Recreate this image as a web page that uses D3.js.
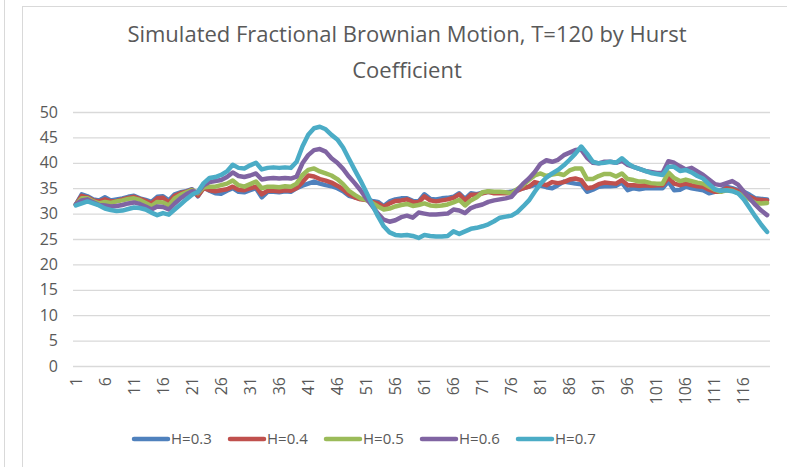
<!DOCTYPE html>
<meta charset="utf-8">
<style>
body { margin: 0; background: #fff; }
text { font-family: "Open Sans", sans-serif; fill: #595959; }
.grid line { stroke: #d9d9d9; stroke-width: 1.3px; }
.line { fill: none; stroke-width: 4.5px; stroke-linejoin: round; stroke-linecap: round; }
</style>
<body>
<script src="https://cdn.jsdelivr.net/npm/d3@7"></script>
<script>

// chart values
var title = ["Simulated Fractional Brownian Motion, T=120 by Hurst", "Coefficient"];
var hurst = ["H=0.3", "H=0.4", "H=0.5", "H=0.6", "H=0.7"];
var colors = ["#4f81bd", "#c0504d", "#9bbb59", "#8064a2", "#4bacc6"];
var yTicks = [0, 5, 10, 15, 20, 25, 30, 35, 40, 45, 50];
var steps = d3.range(1, 121);
var xLabels = steps.filter(function(d) { return (d - 1) % 5 == 0; });

var h03 = [31.8, 33.8, 33.4, 32.8, 32.6, 33.2, 32.6, 32.8, 33.0, 33.3,
  33.5, 33.0, 32.7, 32.3, 33.3, 33.4, 32.6, 33.8, 34.2, 34.4,
  34.8, 33.4, 35.2, 34.5, 34.0, 33.9, 34.5, 35.0, 34.3, 34.2,
  34.6, 35.0, 33.2, 34.3, 34.3, 34.2, 34.4, 34.3, 35.0, 35.5,
  35.9, 36.3, 35.9, 35.6, 35.4, 35.0, 34.4, 33.5, 33.2, 32.9,
  32.8, 32.5, 32.3, 31.5, 32.4, 32.8, 33.0, 33.0, 32.5, 32.4,
  33.8, 32.9, 32.8, 33.0, 33.1, 33.3, 34.0, 32.9, 34.0, 33.8,
  34.1, 34.3, 34.2, 34.2, 34.2, 34.3, 34.7, 35.0, 35.3, 35.6,
  35.5, 35.2, 35.0, 35.6, 36.3, 36.1, 35.9, 35.8, 34.3, 34.7,
  35.3, 35.4, 35.4, 35.5, 36.1, 34.6, 35.0, 34.8, 35.0, 35.0,
  35.0, 35.0, 36.3, 34.6, 34.7, 35.3, 35.0, 34.8, 34.6, 34.0,
  34.3, 34.5, 35.3, 35.0, 34.6, 34.3, 33.7, 33.0, 32.9, 32.8];

var h04 = [31.8, 33.5, 33.2, 32.6, 32.4, 32.8, 32.4, 32.5, 32.8, 33.1,
  33.3, 32.9, 32.5, 32.0, 33.0, 33.1, 32.2, 33.5, 34.0, 34.3,
  34.7, 33.5, 35.0, 34.6, 34.4, 34.6, 34.8, 35.3, 34.7, 34.6,
  35.0, 35.3, 33.8, 34.5, 34.5, 34.4, 34.6, 34.5, 35.0, 36.2,
  37.5, 37.3, 36.8, 36.5, 36.1, 35.5, 34.8, 33.8, 33.2, 32.8,
  32.7, 32.3, 32.0, 31.3, 32.0, 32.5, 32.6, 32.8, 32.3, 32.2,
  33.4, 32.6, 32.4, 32.6, 32.8, 33.1, 33.8, 32.6, 33.7, 33.7,
  34.0, 34.3, 34.0, 34.0, 34.0, 34.1, 34.5, 35.0, 35.3, 36.2,
  35.9, 35.6, 36.2, 36.0, 36.2, 36.7, 36.9, 36.6, 35.0, 35.2,
  35.8, 36.1, 36.0, 35.9, 36.6, 35.6, 35.6, 35.5, 35.6, 35.5,
  35.6, 35.6, 37.1, 35.9, 35.6, 35.9, 35.6, 35.4, 35.3, 34.7,
  34.3, 34.3, 35.0, 34.8, 34.4, 33.8, 33.3, 32.8, 32.7, 32.6];

var h05 = [31.8, 33.0, 33.0, 32.4, 32.0, 32.3, 32.1, 32.4, 32.6, 32.9,
  33.0, 32.7, 32.1, 31.5, 32.3, 32.2, 31.6, 33.0, 33.7, 34.2,
  34.6, 34.0, 35.2, 35.3, 35.3, 35.6, 35.9, 36.5, 35.6, 35.3,
  35.8, 36.3, 35.0, 35.3, 35.3, 35.2, 35.4, 35.3, 35.9, 37.6,
  38.6, 38.9, 38.3, 37.9, 37.5, 36.8, 35.8, 34.5, 33.7, 33.0,
  32.7, 32.1, 31.4, 30.8, 31.0, 31.4, 31.7, 31.9, 31.5, 31.7,
  32.0, 31.6, 31.5, 31.6, 31.8, 32.2, 32.7, 31.6, 32.6, 33.2,
  34.2, 34.4, 34.3, 34.3, 34.2, 34.0, 34.8, 35.6, 36.6, 37.5,
  37.9, 37.4, 37.7, 37.9, 37.6, 38.5, 38.9, 38.9, 36.8, 36.8,
  37.4, 37.8, 37.8, 37.3, 37.9, 36.8, 36.6, 36.3, 36.3, 36.0,
  35.9, 35.9, 38.1, 37.0, 36.4, 36.7, 36.4, 36.1, 35.9, 35.3,
  34.7, 34.3, 34.6, 34.5, 34.0, 33.5, 32.8, 32.1, 32.0, 32.1];

var h06 = [31.8, 32.6, 32.8, 32.2, 31.7, 31.6, 31.4, 31.5, 31.7, 32.0,
  32.2, 31.9, 31.4, 30.8, 31.4, 31.3, 30.8, 32.0, 33.0, 33.8,
  34.4, 34.2, 35.6, 36.2, 36.4, 36.6, 37.2, 38.1, 37.4, 37.2,
  37.5, 37.9, 36.7, 36.9, 37.0, 36.9, 37.0, 36.9, 37.3, 39.9,
  41.5, 42.5, 42.7, 42.2, 40.9, 40.0, 38.8, 37.3, 36.0, 34.6,
  33.0, 31.5, 30.0, 28.8, 28.4, 28.7, 29.3, 29.6, 29.2, 30.2,
  30.0, 29.8, 29.8, 29.9, 30.0, 30.8, 30.6, 30.1, 31.1, 31.5,
  31.8, 32.3, 32.6, 32.8, 33.0, 33.3, 34.6, 35.9, 36.9, 38.2,
  39.8, 40.5, 40.2, 40.6, 41.5, 42.0, 42.5, 42.6, 41.0, 40.0,
  39.9, 40.2, 40.2, 40.0, 40.4, 39.6, 39.2, 38.8, 38.4, 38.2,
  38.0, 38.0, 40.3, 40.0, 39.3, 38.7, 39.0, 38.3, 37.6, 36.7,
  35.8, 35.6, 36.0, 36.4, 35.7, 34.3, 33.0, 31.7, 30.6, 29.7];

var h07 = [31.6, 32.0, 32.4, 32.0, 31.6, 31.0, 30.7, 30.5, 30.6, 30.9,
  31.2, 31.1, 30.8, 30.2, 29.7, 30.1, 29.8, 30.8, 31.8, 32.8,
  33.7, 34.3, 36.0, 37.0, 37.2, 37.6, 38.3, 39.6, 39.0, 38.9,
  39.5, 40.0, 38.7, 39.0, 39.1, 39.0, 39.1, 39.0, 40.2, 43.2,
  45.5, 46.8, 47.1, 46.6, 45.5, 44.6, 43.0, 40.8, 38.6, 36.5,
  34.2, 31.8, 29.5, 27.5, 26.3, 25.8, 25.7, 25.8, 25.6, 25.2,
  25.8, 25.6, 25.5, 25.5, 25.6, 26.5, 26.0, 26.5, 27.0, 27.2,
  27.5, 27.9, 28.5, 29.2, 29.4, 29.6, 30.3, 31.4, 32.6, 34.3,
  35.9, 37.1, 37.9, 38.6, 39.5, 40.6, 41.8, 43.2, 41.8, 40.2,
  39.9, 40.0, 40.2, 40.0, 40.9, 39.9, 39.2, 38.8, 38.4, 38.0,
  37.8, 37.6, 39.2, 39.2, 38.4, 38.6, 38.1, 37.4, 36.9, 35.8,
  34.8, 34.5, 34.6, 34.4, 34.0, 32.8, 31.1, 29.4, 27.8, 26.4];

var series = [h03, h04, h05, h06, h07];

var W = 787, H = 467;
var plot = {left: 73, right: 770, top: 112, bottom: 366};

var svg = d3.select("body").append("svg")
    .attr("width", W)
    .attr("height", H);

// chart area border
svg.append("rect")
    .attr("x", 22.5).attr("y", 6.5)
    .attr("width", W).attr("height", H)
    .style("fill", "none").style("stroke", "#d9d9d9");
svg.append("line")
    .attr("x1", 4.5).attr("x2", 4.5).attr("y1", 0).attr("y2", H)
    .style("stroke", "#d9d9d9");

var x = d3.scaleBand().domain(steps).range([plot.left, plot.right]);
var y = d3.scaleLinear().domain([0, 50]).range([plot.bottom, plot.top]);

// title
svg.append("g").selectAll("text")
    .data(title)
  .enter().append("text")
    .attr("x", 407)
    .attr("y", function(d, i) { return 42 + i * 36; })
    .attr("text-anchor", "middle")
    .style("font-size", "22px")
    .text(function(d) { return d; });

// gridlines + y labels
var yAxis = svg.append("g")
    .attr("class", "grid")
    .attr("transform", "translate(" + plot.left + ",0)")
    .call(d3.axisLeft(y).tickValues(yTicks).tickSize(-(plot.right - plot.left)).tickPadding(15));
yAxis.select(".domain").remove();
yAxis.selectAll("text").style("font-size", "16px");

// x labels, every 5th step, rotated
var xAxis = svg.append("g")
    .attr("transform", "translate(0," + plot.bottom + ")")
    .call(d3.axisBottom(x).tickValues(xLabels).tickSize(0));
xAxis.select(".domain").remove();
xAxis.selectAll("text")
    .attr("transform", "rotate(-90)")
    .attr("x", -11)
    .attr("y", 0)
    .attr("dy", "0.35em")
    .attr("text-anchor", "end")
    .style("font-size", "16px");

// the lines
var line = d3.line()
    .x(function(d, i) { return x(steps[i]) + x.bandwidth() / 2; })
    .y(function(d) { return y(d); });

svg.append("g").selectAll("path")
    .data(series)
  .enter().append("path")
    .attr("class", "line")
    .style("stroke", function(d, i) { return colors[i]; })
    .attr("d", line);

// legend
var leg = svg.append("g").selectAll("g")
    .data(hurst)
  .enter().append("g")
    .attr("transform", function(d, i) { return "translate(" + (134 + i * 96) + ",439)"; });
leg.append("line")
    .attr("x1", 0).attr("x2", 34)
    .style("stroke", function(d, i) { return colors[i]; })
    .style("stroke-width", 4.5)
    .style("stroke-linecap", "round");
leg.append("text")
    .attr("x", 37)
    .attr("dy", "0.35em")
    .style("font-size", "15px")
    .text(function(d) { return d; });

</script>
</body>
